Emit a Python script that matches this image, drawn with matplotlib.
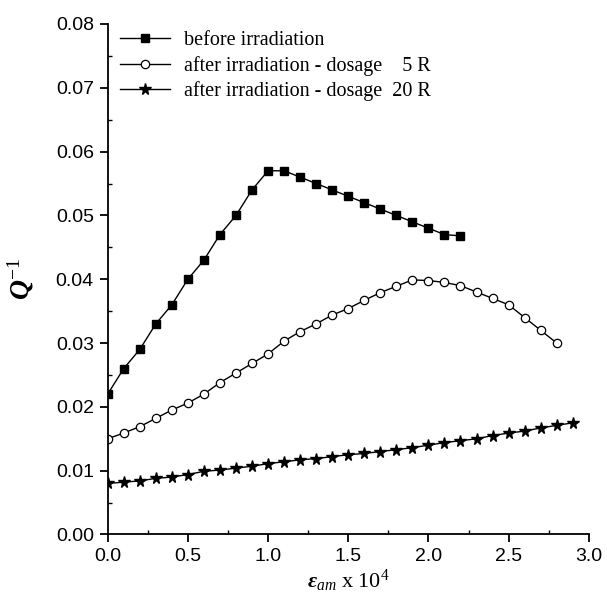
import matplotlib
matplotlib.use("Agg")
import matplotlib.pyplot as plt
from matplotlib.ticker import MultipleLocator, FormatStrFormatter

plt.rcParams['font.family'] = ['Liberation Sans', 'DejaVu Sans']
plt.rcParams['mathtext.fontset'] = 'custom'
plt.rcParams['mathtext.rm'] = 'Liberation Serif'
plt.rcParams['mathtext.it'] = 'Liberation Serif:italic'
plt.rcParams['mathtext.bf'] = 'Liberation Serif:bold:italic'

x_before = [0.0, 0.1, 0.2, 0.3, 0.4, 0.5, 0.6, 0.7, 0.8, 0.9, 1.0, 1.1,
            1.2, 1.3, 1.4, 1.5, 1.6, 1.7, 1.8, 1.9, 2.0, 2.1, 2.2]
q_before = [0.022, 0.026, 0.029, 0.033, 0.036, 0.040, 0.043, 0.047, 0.050,
            0.054, 0.057, 0.057, 0.056, 0.055, 0.054, 0.053, 0.052, 0.051,
            0.050, 0.049, 0.048, 0.047, 0.0468]

x_5R = [0.0, 0.1, 0.2, 0.3, 0.4, 0.5, 0.6, 0.7, 0.8, 0.9, 1.0, 1.1, 1.2, 1.3,
        1.4, 1.5, 1.6, 1.7, 1.8, 1.9, 2.0, 2.1, 2.2, 2.3, 2.4, 2.5, 2.6, 2.7, 2.8]
q_5R = [0.0150, 0.0159, 0.0169, 0.0182, 0.0195, 0.0206, 0.0220, 0.0238,
        0.0253, 0.0268, 0.0283, 0.0303, 0.0318, 0.0330, 0.0344, 0.0354,
        0.0367, 0.0379, 0.0389, 0.0399, 0.0398, 0.0395, 0.0390, 0.0380,
        0.0370, 0.0360, 0.0340, 0.0320, 0.0300]

x_20R = [0.0, 0.1, 0.2, 0.3, 0.4, 0.5, 0.6, 0.7, 0.8, 0.9, 1.0, 1.1, 1.2, 1.3,
         1.4, 1.5, 1.6, 1.7, 1.8, 1.9, 2.0, 2.1, 2.2, 2.3, 2.4, 2.5, 2.6, 2.7,
         2.8, 2.9]
q_20R = [0.0080, 0.0082, 0.0084, 0.0088, 0.0090, 0.0094, 0.0099, 0.0101,
         0.0104, 0.0107, 0.0111, 0.0114, 0.0117, 0.0119, 0.0122, 0.0125,
         0.0127, 0.0130, 0.0133, 0.0136, 0.0140, 0.0144, 0.0147, 0.0150,
         0.0155, 0.0159, 0.0162, 0.0167, 0.0171, 0.0175]

labels = ['before irradiation',
          'after irradiation - dosage    5 R',
          'after irradiation - dosage  20 R']

fig = plt.figure(figsize=(6.07, 6.03), dpi=100)
ax = fig.add_axes([0.1774, 0.1136, 0.7926, 0.8466])

ax.plot(x_before, q_before, '-', color='black', lw=1.0, marker='s',
        ms=6, mfc='black', mec='black', label=labels[0])
ax.plot(x_5R, q_5R, '-', color='black', lw=1.0, marker='o',
        ms=6, mfc='white', mec='black', mew=0.9, label=labels[1])
ax.plot(x_20R, q_20R, '-', color='black', lw=1.0, marker='*',
        ms=8.5, mfc='black', mec='black', label=labels[2])

ax.set_xlim(0, 3.0)
ax.set_ylim(0, 0.08)
ax.xaxis.set_major_locator(MultipleLocator(0.5))
ax.xaxis.set_minor_locator(MultipleLocator(0.25))
ax.yaxis.set_major_locator(MultipleLocator(0.01))
ax.yaxis.set_minor_locator(MultipleLocator(0.005))
ax.xaxis.set_major_formatter(FormatStrFormatter('%.1f'))
ax.yaxis.set_major_formatter(FormatStrFormatter('%.2f'))

for s in ['top', 'right']:
    ax.spines[s].set_visible(False)
for s in ['left', 'bottom']:
    ax.spines[s].set_linewidth(1.3)
ax.tick_params(which='major', direction='out', length=6, width=1.3,
               labelsize=14, pad=4)
ax.tick_params(which='minor', direction='in', length=3, width=1.0)

ax.set_xlabel(r'$\mathbf{\varepsilon}_{am}\ \mathrm{x\ 10^4}$', fontsize=16,
              labelpad=2)
ax.set_ylabel(r'$\mathbf{Q}^{\mathrm{-1}}$', fontsize=20, labelpad=14)

leg = ax.legend(loc='upper left', bbox_to_anchor=(0.0, 1.01), frameon=False,
                prop={'family': 'Liberation Serif', 'size': 14.5},
                handlelength=2.5, handletextpad=0.7, labelspacing=0.28,
                borderaxespad=0.3, borderpad=0.3)

fig.savefig('out.png', dpi=100)
